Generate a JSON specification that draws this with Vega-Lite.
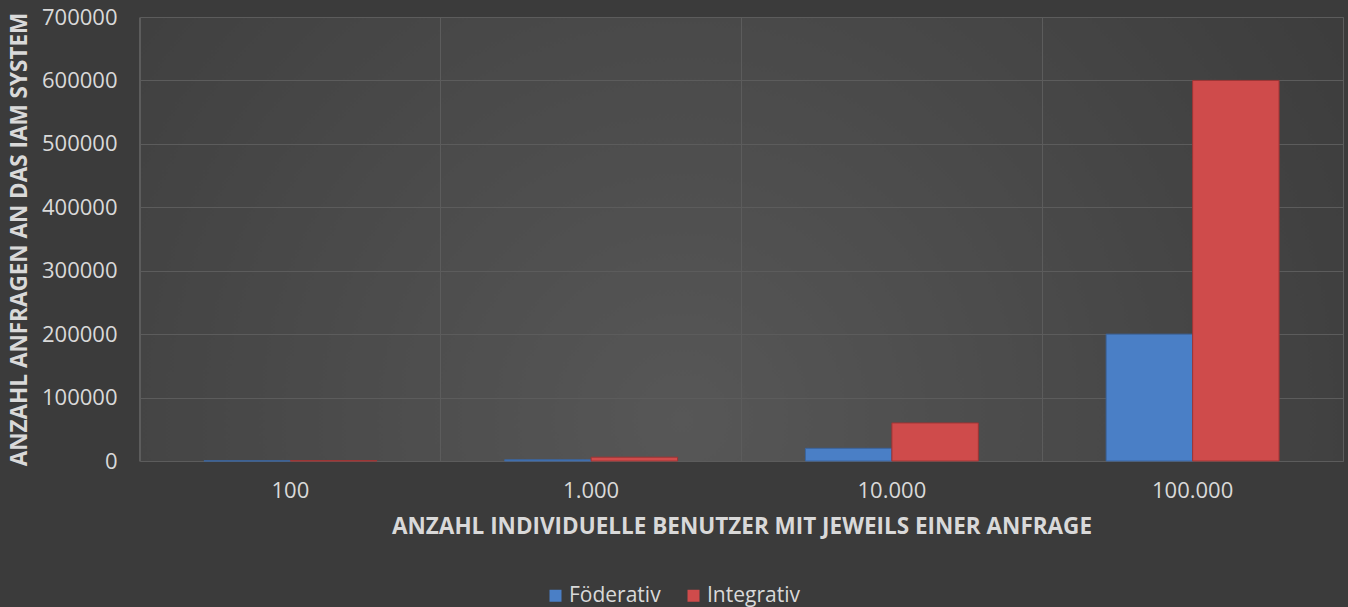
{
  "$schema": "https://vega.github.io/schema/vega-lite/v6.json",
  "width": 1203,
  "height": 444,
  "autosize": "none",
  "padding": {"left": 140, "top": 17, "right": 5, "bottom": 146},
  "background": "#3b3b3b",
  "config": {
    "font": "Open Sans",
    "view": {
      "stroke": "#5c5c5c",
      "strokeWidth": 1,
      "fill": {
        "gradient": "radial",
        "x1": 0.45, "y1": 0.65, "x2": 0.45, "y2": 0.65,
        "r1": 0, "r2": 0.8,
        "stops": [
          {"offset": 0, "color": "#575757"},
          {"offset": 1, "color": "#363636"}
        ]
      }
    },
    "axis": {
      "labelColor": "#d9d9d9",
      "titleColor": "#d9d9d9",
      "labelFontSize": 22,
      "titleFontSize": 22.5,
      "titleFontWeight": "bold",
      "gridColor": "#5c5c5c",
      "gridWidth": 1,
      "domain": false,
      "ticks": false
    },
    "legend": {
      "labelColor": "#d9d9d9",
      "labelFontSize": 21
    }
  },
  "data": {
    "values": [
      {"users": "100", "series": "Föderativ", "value": 200},
      {"users": "100", "series": "Integrativ", "value": 600},
      {"users": "1.000", "series": "Föderativ", "value": 2000},
      {"users": "1.000", "series": "Integrativ", "value": 6000},
      {"users": "10.000", "series": "Föderativ", "value": 20000},
      {"users": "10.000", "series": "Integrativ", "value": 60000},
      {"users": "100.000", "series": "Föderativ", "value": 200000},
      {"users": "100.000", "series": "Integrativ", "value": 600000}
    ]
  },
  "mark": {"type": "bar", "strokeWidth": 1},
  "encoding": {
    "x": {
      "field": "users",
      "type": "nominal",
      "sort": ["100", "1.000", "10.000", "100.000"],
      "scale": {"paddingInner": 0.425, "paddingOuter": 0.2125},
      "axis": {
        "title": "ANZAHL INDIVIDUELLE BENUTZER MIT JEWEILS EINER ANFRAGE",
        "labelAngle": 0,
        "labelPadding": 19,
        "titlePadding": 14,
        "grid": true,
        "bandPosition": -0.37
      }
    },
    "xOffset": {
      "field": "series",
      "type": "nominal",
      "sort": ["Föderativ", "Integrativ"]
    },
    "y": {
      "field": "value",
      "type": "quantitative",
      "scale": {"domain": [0, 700000], "nice": false},
      "axis": {
        "title": "ANZAHL ANFRAGEN AN DAS IAM SYSTEM",
        "values": [0, 100000, 200000, 300000, 400000, 500000, 600000, 700000],
        "format": "d",
        "labelPadding": 23,
        "titlePadding": 10,
        "grid": true
      }
    },
    "color": {
      "field": "series",
      "type": "nominal",
      "sort": ["Föderativ", "Integrativ"],
      "scale": {"domain": ["Föderativ", "Integrativ"], "range": ["#4a7fc6", "#cf4b4b"]},
      "legend": {
        "title": null,
        "orient": "none",
        "direction": "horizontal",
        "legendX": 405,
        "legendY": 568,
        "symbolType": "square",
        "symbolSize": 144,
        "symbolStrokeWidth": 0,
        "labelOffset": 3,
        "columnPadding": 22
      }
    },
    "stroke": {
      "field": "series",
      "type": "nominal",
      "scale": {"domain": ["Föderativ", "Integrativ"], "range": ["#3a649e", "#9e3434"]},
      "legend": null
    }
  }
}
